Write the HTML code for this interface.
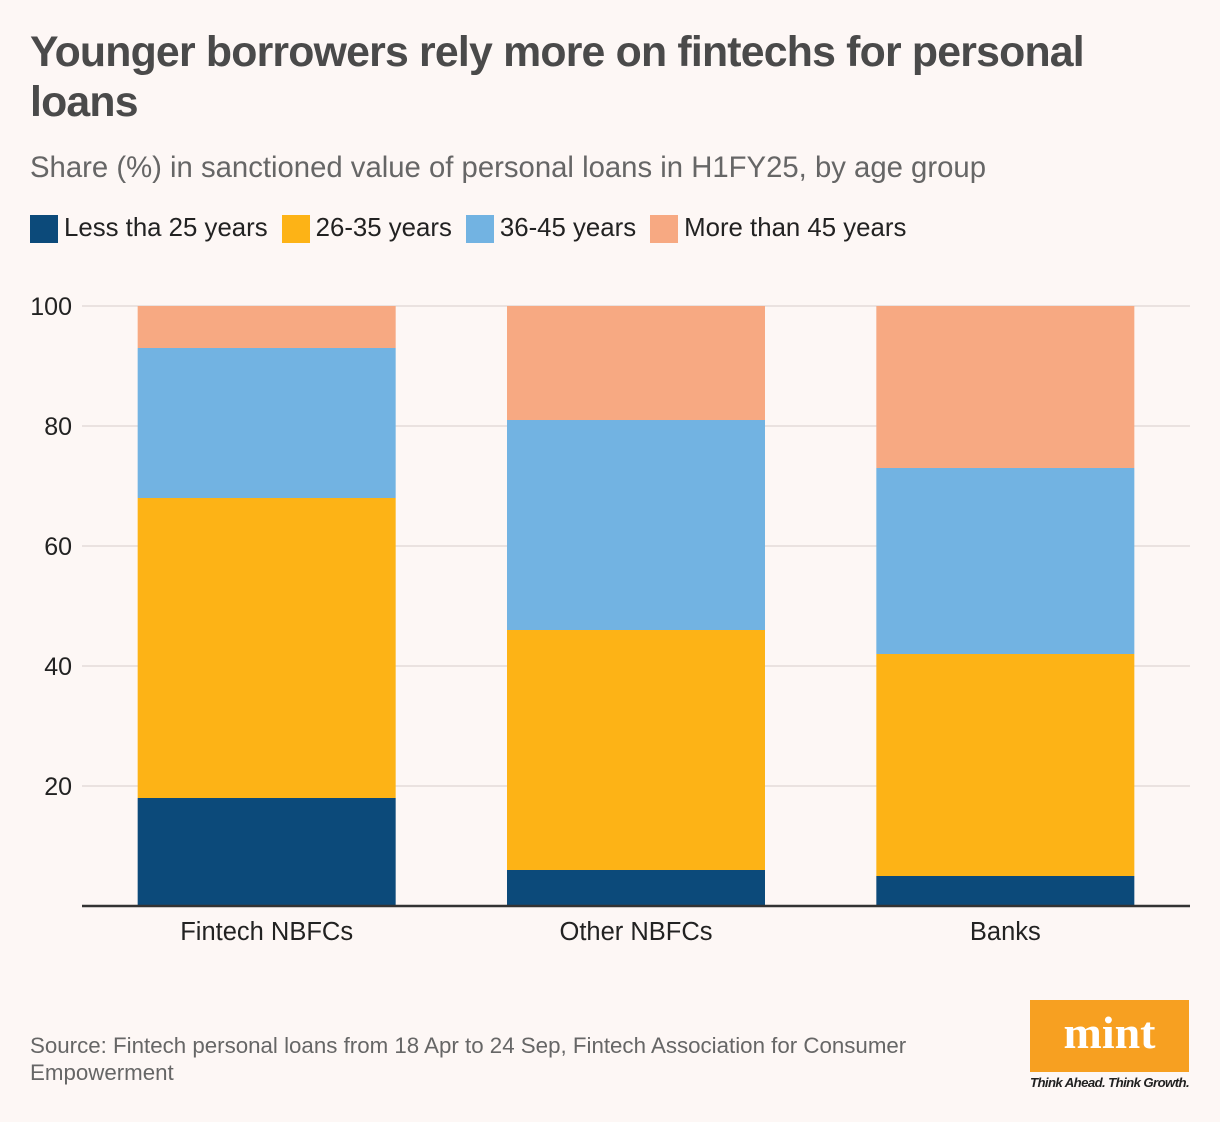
<!DOCTYPE html>
<html><head><meta charset="utf-8"><style>
body{margin:0;background:#fdf7f5;font-family:"Liberation Sans",sans-serif;}
#wrap{position:relative;width:1220px;height:1122px;overflow:hidden;background:#fdf7f5;}
.title{position:absolute;left:30px;top:27px;font-size:42.8px;font-weight:bold;color:#4a4a4a;line-height:50px;letter-spacing:-0.8px;width:1100px;}
.sub{position:absolute;left:30px;top:151px;font-size:29.3px;color:#666;}
.legend{position:absolute;left:30px;top:214px;font-size:25.8px;color:#222;display:flex;}
.li{display:flex;align-items:center;margin-right:14px;}
.sw{width:28px;height:28px;margin-right:6px;}
.src{position:absolute;left:30px;top:1032px;font-size:22.3px;color:#666;line-height:27px;width:920px;}
.logo{position:absolute;left:1030px;top:1000px;width:159px;height:72px;background:#f7a021;color:#fff;font-family:"Liberation Serif",serif;font-weight:bold;font-size:46px;text-align:center;line-height:66px;}
.tag{position:absolute;left:1030px;top:1075px;font-size:13.2px;font-style:italic;font-weight:bold;color:#222;letter-spacing:-0.6px;}
</style></head><body><div id="wrap">
<div class="title">Younger borrowers rely more on fintechs for personal loans</div>
<div class="sub">Share (%) in sanctioned value of personal loans in H1FY25, by age group</div>
<div class="legend">
<div class="li"><div class="sw" style="background:#0c4a7a"></div>Less tha 25 years</div>
<div class="li"><div class="sw" style="background:#fdb316"></div>26-35 years</div>
<div class="li"><div class="sw" style="background:#72b3e2"></div>36-45 years</div>
<div class="li"><div class="sw" style="background:#f7a982"></div>More than 45 years</div>
</div>
<svg id="chart" width="1220" height="1122" style="position:absolute;left:0;top:0"></svg>
<div class="src">Source: Fintech personal loans from 18 Apr to 24 Sep, Fintech Association for Consumer Empowerment</div>
<div class="logo">mint</div>
<div class="tag">Think Ahead. Think Growth.</div>
</div>
<script>
const categories=["Fintech NBFCs","Other NBFCs","Banks"];
const under25=[18,6,5];
const age26to35=[50,40,37];
const age36to45=[25,35,31];
const over45=[7,19,27];
const yTicks=[20,40,60,80,100];
const seriesList=[under25,age26to35,age36to45,over45];
const colors=["#0c4a7a","#fdb316","#72b3e2","#f7a982"];
const names=["under-25","26-35","36-45","over-45"];
const svg=document.getElementById('chart');const NS="http://www.w3.org/2000/svg";
const y0=906,yTop=306,xL=82,xR=1190;
const y=v=>y0-(v/100)*(y0-yTop);
const band=(xR-xL)/categories.length,bw=258;
const xc=i=>xL+band*(i+0.5);
function mk(t,a){const e=document.createElementNS(NS,t);for(const k in a)e.setAttribute(k,a[k]);svg.appendChild(e);return e;}
yTicks.forEach(t=>{const l=mk('line',{x1:xL,x2:xR,y1:y(t),y2:y(t),stroke:'#e3dcd9','stroke-width':1.5});


const tx=mk('text',{x:72,y:y(t)+9,'text-anchor':'end','font-size':25,fill:'#222','font-family':'Liberation Sans'});tx.textContent=t;

});
categories.forEach((c,i)=>{let acc=0;const cx=xc(i);
seriesList.forEach((s,j)=>{const r=mk('rect',{x:cx-bw/2,y:y(acc+s[i]),width:bw,height:y(acc)-y(acc+s[i]),fill:colors[j]});

acc+=s[i];});
const tx=mk('text',{x:cx,y:940,'text-anchor':'middle','font-size':25.5,fill:'#222','font-family':'Liberation Sans'});tx.textContent=c;

});
const ax=mk('line',{x1:xL,x2:xR,y1:y0,y2:y0,stroke:'#333','stroke-width':2.5});


</script></body></html>
